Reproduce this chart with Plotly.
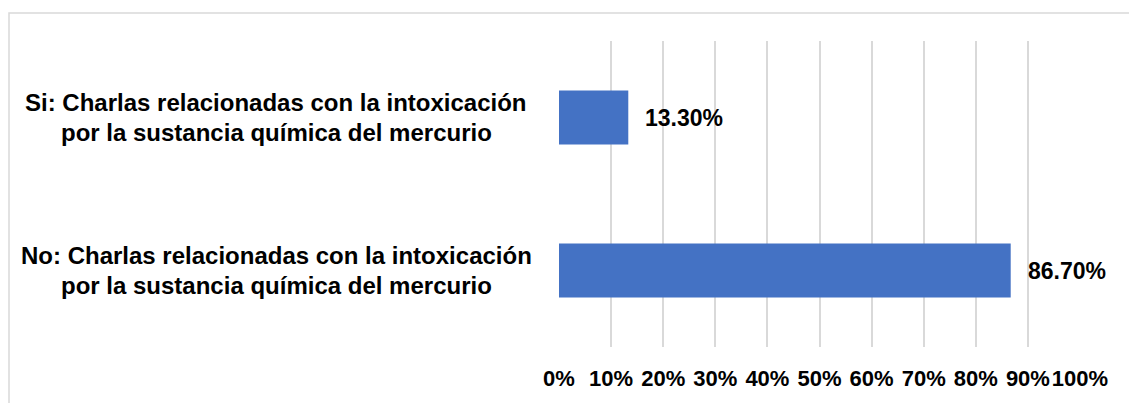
import plotly.graph_objects as go

categories = [
    "Si: Charlas relacionadas con la intoxicación<br>por la sustancia química del mercurio",
    "No: Charlas relacionadas con la intoxicación<br>por la sustancia química del mercurio",
]
values = [13.30, 86.70]
tick_vals = [0, 10, 20, 30, 40, 50, 60, 70, 80, 90, 100]
tick_text = [f"{v}%" for v in tick_vals]

FONT = "Liberation Sans, Arial, sans-serif"
W, H = 1129, 403
L, R, T, B = 559, 49, 41, 50

fig = go.Figure()
fig.add_trace(go.Bar(
    y=categories, x=values, orientation="h",
    marker=dict(color="#4472C4", line=dict(width=0)),
    width=0.353, hoverinfo="skip",
))

for c, v in zip(categories, values):
    fig.add_annotation(x=v, y=c, xref="x", yref="y", text=f"<b>{v:.2f}%</b>",
                       showarrow=False, xanchor="left", yanchor="middle", xshift=15,
                       font=dict(family=FONT, size=23, color="#000000"))
    lines = c.split("<br>")
    for i, line in enumerate(lines):
        fig.add_annotation(x=0, y=c, xref="paper", yref="y", text=f"<b>{line}</b>",
                           showarrow=False, xanchor="center", yanchor="middle",
                           xshift=-283, yshift=15 - 30 * i,
                           font=dict(family=FONT, size=24, color="#000000"))

pw, ph = W - L - R, H - T - B
fig.add_shape(type="rect", xref="paper", yref="paper",
              x0=(9 - L) / pw, x1=1.5, y0=-0.5, y1=1 + (T - 12.5) / ph,
              line=dict(color="#d9d9d9", width=1.5), fillcolor="rgba(0,0,0,0)", layer="below")

fig.update_layout(
    width=W, height=H,
    margin=dict(l=L, r=R, t=T, b=B, pad=0),
    paper_bgcolor="white", plot_bgcolor="white",
    showlegend=False,
    font=dict(family=FONT, color="#000000"),
    xaxis=dict(range=[0, 100], tickvals=tick_vals, ticktext=[f"<b>{t}</b>" for t in tick_text],
               tickangle=0,
               showgrid=True, gridcolor="#d9d9d9", gridwidth=1.5, zeroline=False,
               showline=False, ticks="", ticklabelstandoff=16,
               tickfont=dict(family=FONT, size=22, color="#000000"), fixedrange=True),
    yaxis=dict(categoryorder="array", categoryarray=categories, autorange="reversed",
               showticklabels=False, showgrid=False, zeroline=False, showline=False,
               ticks="", fixedrange=True),
)

fig.write_html("out.html", config={"displayModeBar": False},
               post_script="document.body.style.margin='0';")
